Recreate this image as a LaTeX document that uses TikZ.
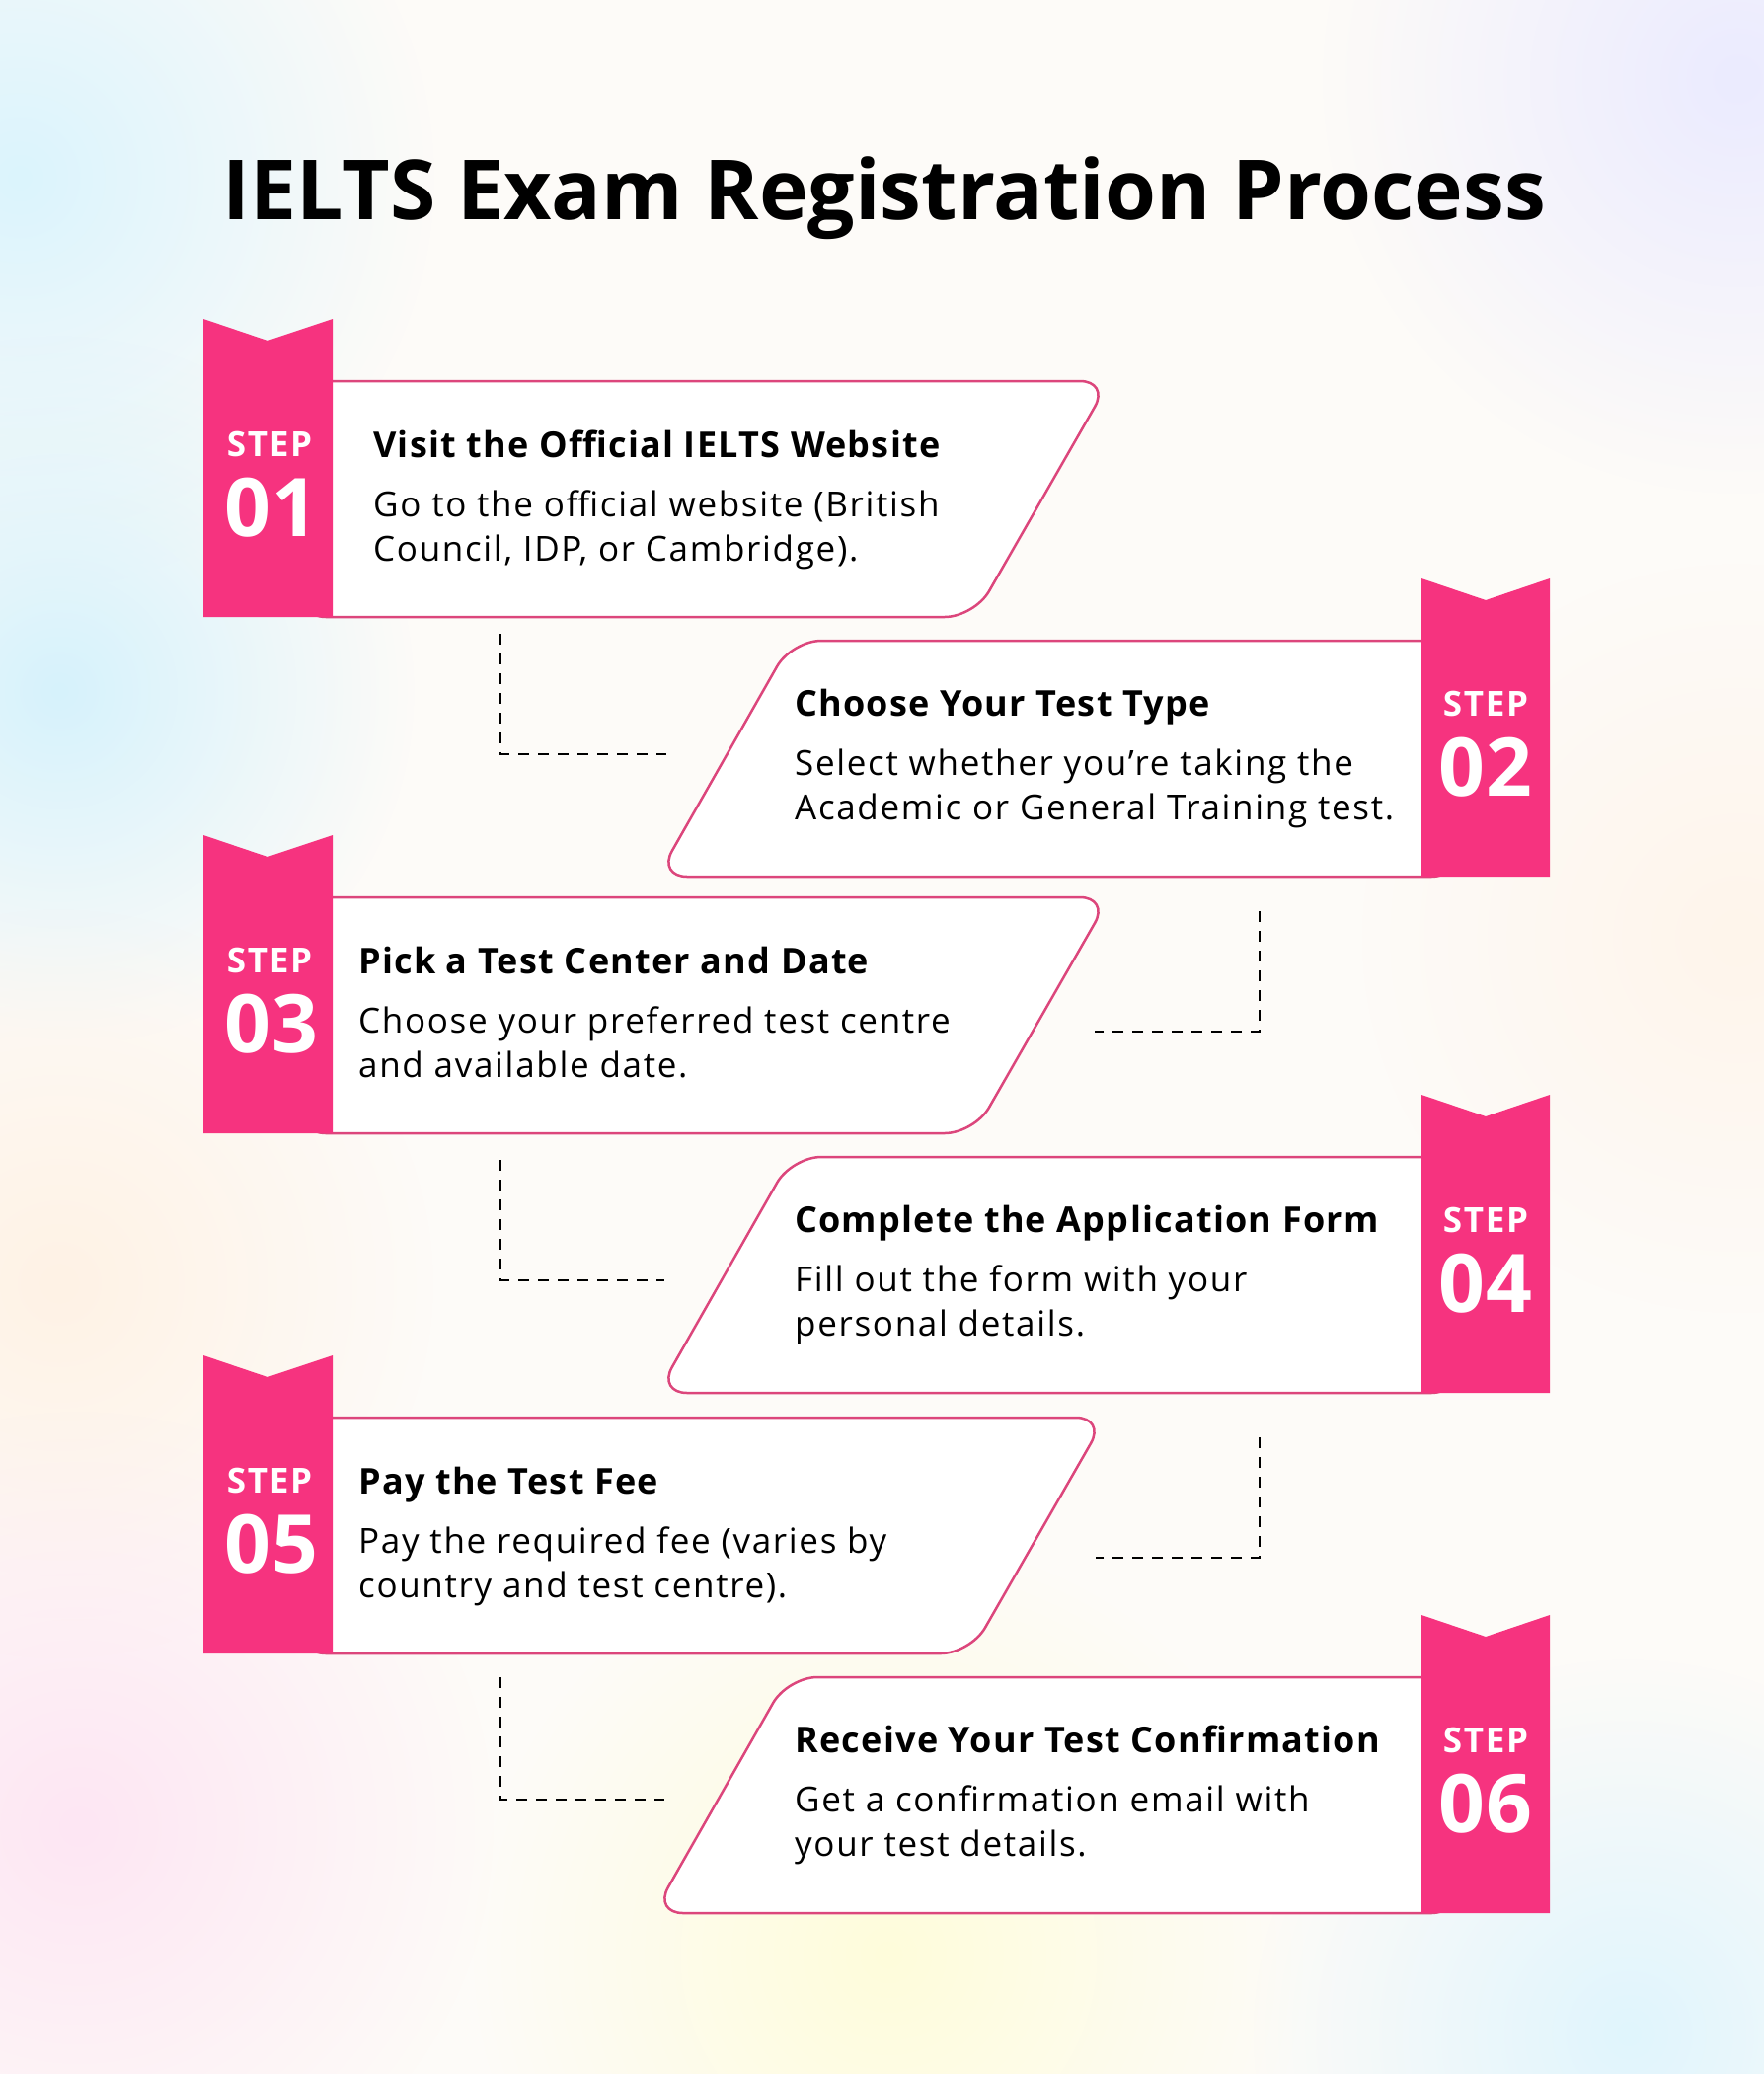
\documentclass[tikz,border=0pt]{standalone}
\usepackage{fontspec}
\setmainfont{Open Sans}
\usepackage{tikz}
\usetikzlibrary{fadings}
\definecolor{ribbonpink}{HTML}{F6337F}
\definecolor{edgepink}{HTML}{DC467C}
\definecolor{paper}{HTML}{FDFBF8}
\tikzfading[name=softblob, inner color=transparent!0, outer color=transparent!100]

\begin{document}
\begin{tikzpicture}[
        x=1pt, y=-1pt,
        stepbox/.style={
            draw=edgepink,
            line width=2.5pt,
            fill=white,
            rounded corners=30pt
        },
        ribbon/.style={fill=ribbonpink},
        steptag/.style={text=white, inner sep=0pt, anchor=base,
            font=\fontsize{35}{35}\selectfont\bfseries\addfontfeature{LetterSpace=5}},
        stepnum/.style={text=white, inner sep=0pt, anchor=base,
            font=\fontsize{82}{82}\selectfont\bfseries\addfontfeature{LetterSpace=2}},
        steptitle/.style={inner sep=0pt, anchor=base west,
            font=\fontsize{36}{36}\selectfont\bfseries\addfontfeature{LetterSpace=3.5}},
        stepbody/.style={inner sep=0pt, anchor=base west, align=left,
            font=\fontsize{35}{45}\selectfont\addfontfeature{LetterSpace=4.8}},
        link/.style={draw=black, line width=2pt, dash pattern=on 11pt off 9pt}
    ]
        \useasboundingbox (0,0) rectangle (1787,2101);
        \fill[paper] (0,0) rectangle (1787,2101);

        % soft background
        \fill[cyan!14, path fading=softblob] (20,180) circle (420);
        \fill[cyan!16, path fading=softblob] (60,700) circle (360);
        \fill[orange!10, path fading=softblob] (60,1300) circle (380);
        \fill[magenta!10, path fading=softblob] (80,1850) circle (420);
        \fill[yellow!14, path fading=softblob] (900,1980) circle (420);
        \fill[blue!8, path fading=softblob] (1760,80) circle (420);
        \fill[orange!8, path fading=softblob] (1760,950) circle (380);
        \fill[cyan!12, path fading=softblob] (1650,2060) circle (380);

        \node[inner sep=0pt, anchor=base, font=\fontsize{84}{84}\selectfont\bfseries]
            (heading) at (896,222) {IELTS Exam Registration Process};

        % links
        \coordinate (l12a) at (507,642);
        \coordinate (l12b) at (675,764);
        \coordinate (l23a) at (1276,923);
        \coordinate (l23b) at (1109,1045);
        \coordinate (l34a) at (507,1175);
        \coordinate (l34b) at (673,1297);
        \coordinate (l45a) at (1276,1456);
        \coordinate (l45b) at (1110,1578);
        \coordinate (l56a) at (507,1699);
        \coordinate (l56b) at (673,1823);
        \draw[link] (l12a) |- (l12b);
        \draw[link] (l23a) |- (l23b);
        \draw[link] (l34a) |- (l34b);
        \draw[link] (l45a) |- (l45b);
        \draw[link] (l56a) |- (l56b);

        % step 01
        \draw[stepbox] (300,386) -- (1124,386) -- (987,625) -- (300,625) -- cycle;
        \fill[ribbon] (206,323) -- (271,345) -- (337,323) -- (337,625) -- (206,625) -- cycle;
        \node[steptag] (tag1) at (273,462) {STEP};
        \node[stepnum] (num1) at (275,543) {01};
        \node[steptitle] (title1) at (378,463) {Visit the Official IELTS Website};
        \node[stepbody] (body1) at (378,568) {Go to the official website (British\\Council, IDP, or Cambridge).};

        % step 02
        \draw[stepbox] (802,649) -- (1480,649) -- (1480,888) -- (666,888) -- cycle;
        \fill[ribbon] (1440,586) -- (1505,608) -- (1570,586) -- (1570,888) -- (1440,888) -- cycle;
        \node[steptag] (tag2) at (1505,725) {STEP};
        \node[stepnum] (num2) at (1505,806) {02};
        \node[steptitle] (title2) at (805,725) {Choose Your Test Type};
        \node[stepbody] (body2) at (805,830) {Select whether you’re taking the\\Academic or General Training test.};

        % step 03
        \draw[stepbox] (300,909) -- (1124,909) -- (987,1148) -- (300,1148) -- cycle;
        \fill[ribbon] (206,846) -- (271,868) -- (337,846) -- (337,1148) -- (206,1148) -- cycle;
        \node[steptag] (tag3) at (273,985) {STEP};
        \node[stepnum] (num3) at (275,1066) {03};
        \node[steptitle] (title3) at (363,986) {Pick a Test Center and Date};
        \node[stepbody] (body3) at (363,1091) {Choose your preferred test centre\\and available date.};

        % step 04
        \draw[stepbox] (802,1172) -- (1480,1172) -- (1480,1411) -- (666,1411) -- cycle;
        \fill[ribbon] (1440,1109) -- (1505,1131) -- (1570,1109) -- (1570,1411) -- (1440,1411) -- cycle;
        \node[steptag] (tag4) at (1505,1248) {STEP};
        \node[stepnum] (num4) at (1505,1329) {04};
        \node[steptitle] (title4) at (805,1248) {Complete the Application Form};
        \node[stepbody] (body4) at (805,1353) {Fill out the form with your\\personal details.};

        % step 05
        \draw[stepbox] (300,1436) -- (1120,1436) -- (983,1675) -- (300,1675) -- cycle;
        \fill[ribbon] (206,1373) -- (271,1395) -- (337,1373) -- (337,1675) -- (206,1675) -- cycle;
        \node[steptag] (tag5) at (273,1512) {STEP};
        \node[stepnum] (num5) at (275,1593) {05};
        \node[steptitle] (title5) at (363,1513) {Pay the Test Fee};
        \node[stepbody] (body5) at (363,1618) {Pay the required fee (varies by\\country and test centre).};

        % step 06
        \draw[stepbox] (798,1699) -- (1480,1699) -- (1480,1938) -- (662,1938) -- cycle;
        \fill[ribbon] (1440,1636) -- (1505,1658) -- (1570,1636) -- (1570,1938) -- (1440,1938) -- cycle;
        \node[steptag] (tag6) at (1505,1775) {STEP};
        \node[stepnum] (num6) at (1505,1856) {06};
        \node[steptitle] (title6) at (805,1775) {Receive Your Test Confirmation};
        \node[stepbody] (body6) at (805,1880) {Get a confirmation email with\\your test details.};
    \end{tikzpicture}
\end{document}
